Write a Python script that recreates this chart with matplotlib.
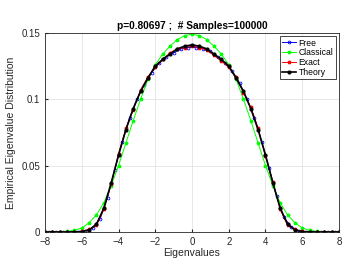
import numpy as np
import matplotlib.pyplot as plt

plt.rcParams['font.family'] = ['Liberation Sans', 'DejaVu Sans']

# eigenvalue grids
x_th = np.arange(-8, 8.01, 0.4)
x_free = np.arange(-7.8, 7.81, 0.4)

# theory (black), 41 points from -8 to 8
theory = [0, 0, 0, 0, 0.0001, 0.0003, 0.0015, 0.006, 0.018, 0.037, 0.058,
          0.077, 0.093, 0.106, 0.116, 0.125, 0.130, 0.134, 0.138, 0.140,
          0.141,
          0.140, 0.138, 0.134, 0.130, 0.125, 0.116, 0.106, 0.093, 0.077,
          0.058, 0.037, 0.018, 0.006, 0.0015, 0.0003, 0.0001, 0, 0, 0, 0]

classical = [0, 0, 0.0001, 0.0004, 0.0012, 0.003, 0.007, 0.013, 0.022, 0.035,
             0.050, 0.067, 0.084, 0.100, 0.115, 0.126, 0.134, 0.140, 0.145, 0.148,
             0.149,
             0.148, 0.145, 0.140, 0.134, 0.126, 0.115, 0.100, 0.084, 0.067,
             0.050, 0.035, 0.022, 0.013, 0.007, 0.003, 0.0012, 0.0004, 0.0001, 0, 0]

exact = [0, 0, 0, 0, 0.0002, 0.0005, 0.002, 0.005, 0.017, 0.036, 0.059,
         0.078, 0.092, 0.107, 0.117, 0.124, 0.130, 0.135, 0.138, 0.139,
         0.140,
         0.139, 0.137, 0.133, 0.129, 0.124, 0.117, 0.105, 0.094, 0.078,
         0.057, 0.038, 0.017, 0.005, 0.002, 0.0005, 0.0002, 0, 0, 0, 0]

free = [0, 0, 0, 0.0001, 0.0003, 0.001, 0.003, 0.010, 0.026, 0.047,
        0.068, 0.086, 0.100, 0.111, 0.120, 0.127, 0.132, 0.135, 0.138, 0.139,
        0.139, 0.138, 0.136, 0.132, 0.127, 0.121, 0.112, 0.100, 0.086, 0.068,
        0.048, 0.027, 0.011, 0.004, 0.001, 0.0003, 0.0001, 0, 0, 0]

fig = plt.figure(figsize=(3.52, 2.72), dpi=100)
ax = fig.add_axes([0.128, 0.147, 0.835, 0.732])

ax.plot(x_free, free, 'b-o', lw=0.7, ms=2, mfc='none', mew=0.6, label='Free')
ax.plot(x_th, classical, '-*', color='#00ff00', lw=0.7, ms=2.5, label='Classical')
ax.plot(x_th, exact, 'r-*', lw=0.7, ms=2.5, label='Exact')
ax.plot(x_th, theory, 'k-o', lw=1.2, ms=2, label='Theory')

ax.set_xlim(-8, 8)
ax.set_ylim(0, 0.15)
ax.set_xticks(np.arange(-8, 9, 2))
ax.set_yticks([0, 0.05, 0.1, 0.15])
ax.set_yticklabels(['0', '0.05', '0.1', '0.15'])
ax.grid(True, color='#e3e3e3', lw=0.6)
ax.tick_params(labelsize=7, length=2, direction='in', colors='#262626')
for s in ax.spines.values():
    s.set_color('#262626')
    s.set_linewidth(0.6)
ax.set_xlabel('Eigenvalues', fontsize=7.5, labelpad=1, color='#262626')
ax.set_ylabel('Empirical Eigenvalue Distribution', fontsize=7.5, labelpad=4, color='#262626')
ax.set_title('p=0.80697 ;  # Samples=100000', fontsize=7.3, fontweight='bold', pad=3)

leg = ax.legend(loc='upper right', fontsize=6.2, fancybox=False, framealpha=1,
                edgecolor='#262626', handlelength=1.6, borderpad=0.25, labelspacing=0.1,
                handletextpad=0.3, borderaxespad=0.4)
leg.get_frame().set_linewidth(0.6)

fig.savefig('out.png')
